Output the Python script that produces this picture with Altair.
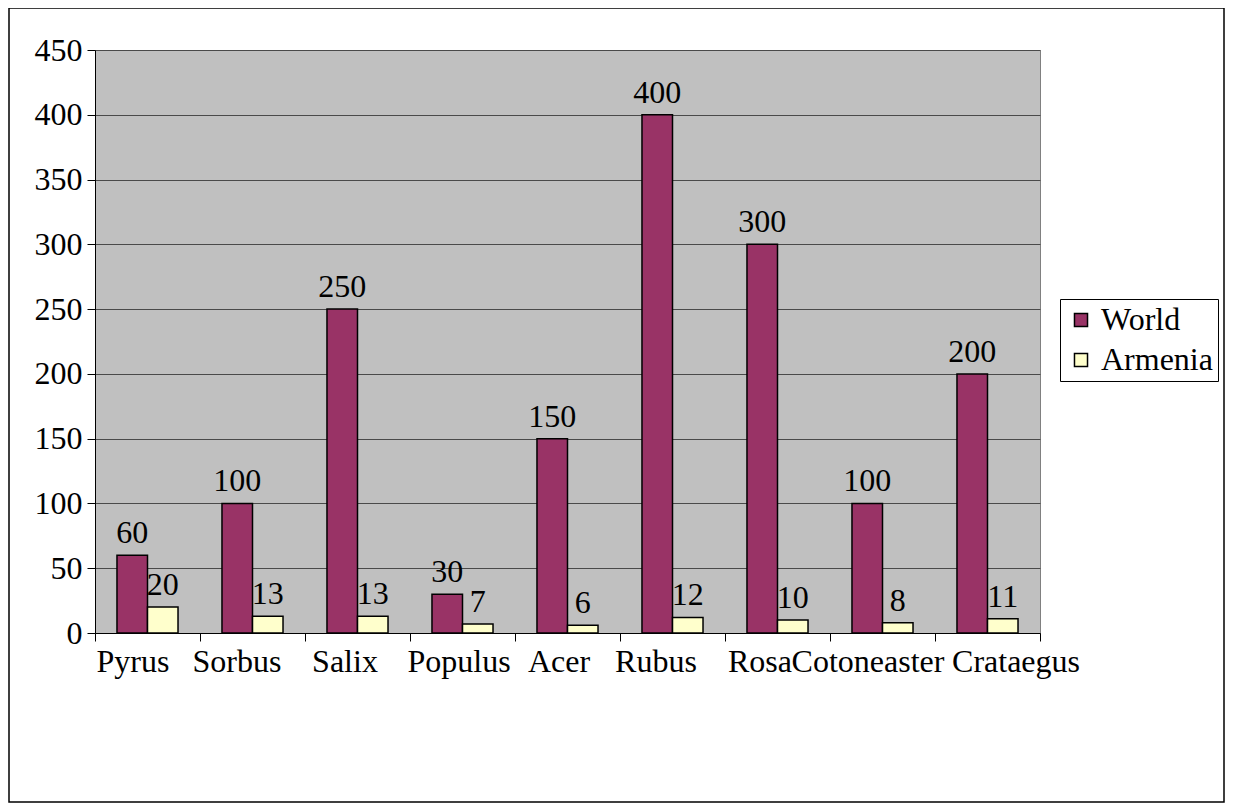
import altair as alt
import pandas as pd

genera = ["Pyrus", "Sorbus", "Salix", "Populus", "Acer", "Rubus", "Rosa", "Cotoneaster", "Crataegus"]
world = [60, 100, 250, 30, 150, 400, 300, 100, 200]
armenia = [20, 13, 13, 7, 6, 12, 10, 8, 11]
series = ["World", "Armenia"]
y_ticks = [0, 50, 100, 150, 200, 250, 300, 350, 400, 450]

rows = []
for g, w, a in zip(genera, world, armenia):
    rows.append({"genus": g, "series": "World", "value": w})
    rows.append({"genus": g, "series": "Armenia", "value": a})
df = pd.DataFrame(rows)

FONT = "Liberation Serif"
FS = 32

# per-label horizontal nudges (styling only)
label_nudge = {"Pyrus": -15, "Sorbus": -16, "Salix": -13, "Populus": -4, "Acer": -9,
               "Rubus": -17, "Rosa": -18, "Cotoneaster": -15, "Crataegus": 28}
offset_cond = {
    "condition": [{"test": f"datum.value == '{k}'", "value": v} for k, v in label_nudge.items()],
    "value": 0,
}

x_enc = alt.X("genus:N", sort=genera, title=None,
              scale=alt.Scale(paddingInner=0, paddingOuter=0),
              axis=alt.Axis(labelAngle=0, tickBand="extent", tickSize=8, tickColor="black",
                            domainColor="black", domainWidth=1, labelFont=FONT, labelFontSize=FS,
                            labelColor="black", labelPadding=5, labelOverlap=False,
                            labelOffset=offset_cond))
xoff = alt.XOffset("series:N", sort=series,
                   scale=alt.Scale(domain=series, paddingInner=0, paddingOuter=0.72))
color = alt.Color("series:N", sort=series,
                  scale=alt.Scale(domain=series, range=["#993366", "#FFFFCC"]),
                  legend=alt.Legend(title=None, orient="none", legendX=965, legendY=249,
                                    strokeColor="black", padding=5, symbolType="square",
                                    symbolSize=170, symbolStrokeColor="black", symbolStrokeWidth=1.5,
                                    labelFont=FONT, labelFontSize=FS, labelColor="black",
                                    rowPadding=8, labelOffset=4, fillColor="white"))
y_enc = alt.Y("value:Q", title=None,
              scale=alt.Scale(domain=[0, 450], nice=False),
              axis=alt.Axis(values=y_ticks, tickSize=8, tickColor="black", domainColor="black",
                            labelFont=FONT, labelFontSize=FS, labelColor="black", labelPadding=5,
                            grid=True, gridColor="#4a4a4a", gridWidth=1))

border = alt.Chart(alt.Data(values=[{"a": 1}])).mark_rect(
    fillOpacity=0, stroke="black", strokeWidth=1.5
).encode(x=alt.value(-86), x2=alt.value(1129), y=alt.value(-42), y2=alt.value(752))

base = alt.Chart(df)
bars = base.mark_bar(stroke="black", strokeWidth=1.5).encode(
    x=x_enc, xOffset=xoff, y=y_enc, color=color)
labels = base.mark_text(font=FONT, fontSize=FS, color="black", baseline="alphabetic", dy=-12).encode(
    x=alt.X("genus:N", sort=genera), xOffset=xoff, y="value:Q", text="value:Q")

chart = alt.layer(border, bars, labels).properties(
    width=945, height=583,
    autosize=alt.AutoSizeParams(type="none"),
    padding={"left": 87, "top": 42, "right": 185, "bottom": 171},
).configure(font=FONT).configure_view(fill="#C0C0C0", stroke="#808080", strokeWidth=1)

chart.save("out.html", embed_options={"renderer": "svg", "actions": False})
